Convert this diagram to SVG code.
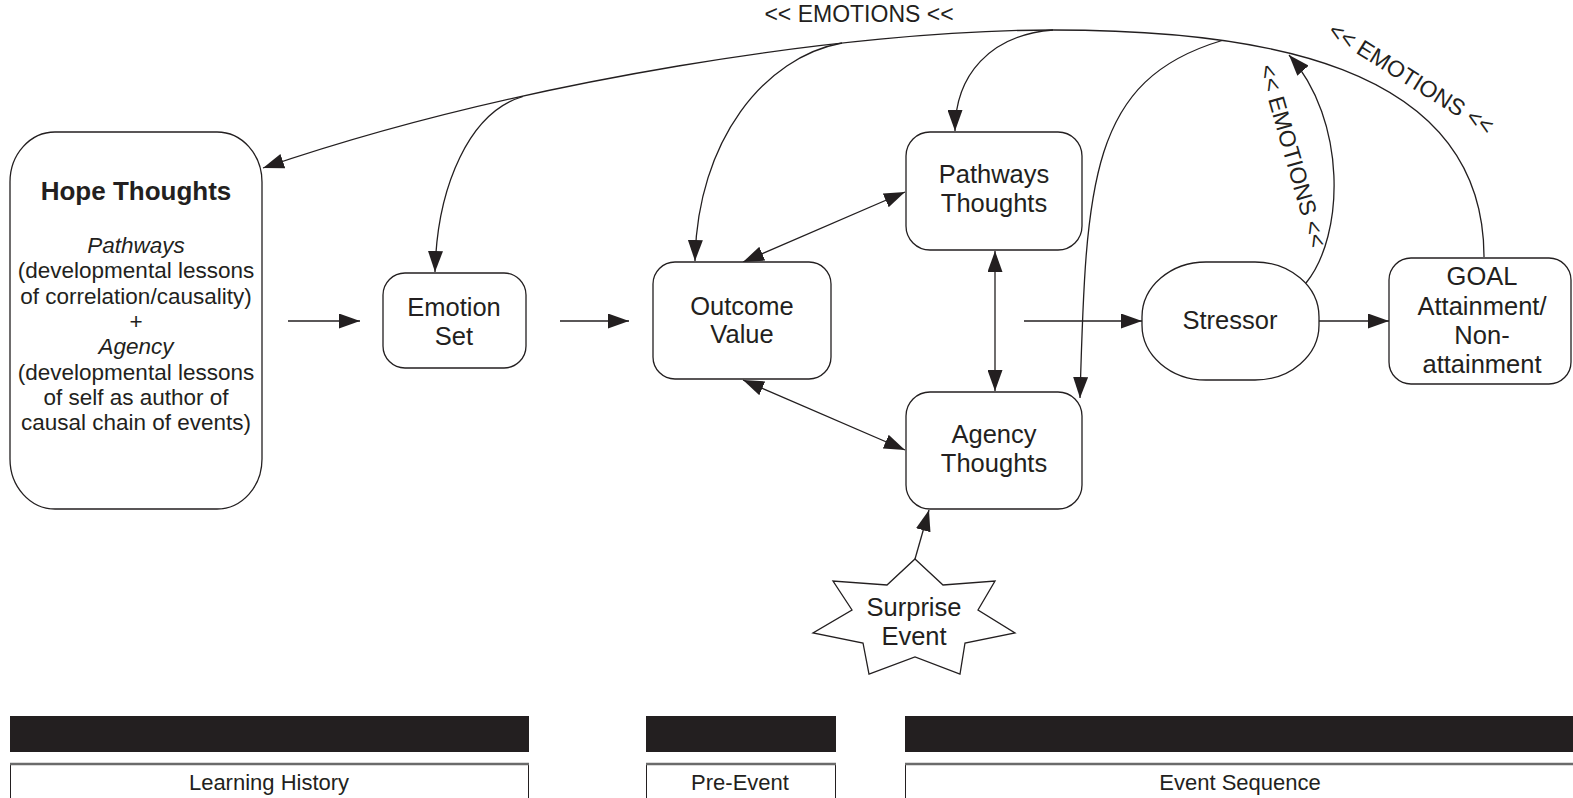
<svg xmlns="http://www.w3.org/2000/svg" width="1573" height="798" viewBox="0 0 1573 798">
  <style>
    .box { fill: #ffffff; stroke: #231f20; stroke-width: 1.3; }
    .wire { fill: none; stroke: #231f20; stroke-width: 1.3; }
    .lbl { font-family: "Liberation Sans", Arial, sans-serif; font-size: 25.5px; fill: #231f20; text-anchor: middle; }
    .hope { font-family: "Liberation Sans", Arial, sans-serif; font-size: 22.5px; fill: #231f20; text-anchor: middle; }
    .title { font-weight: bold; font-size: 26px; }
    .it { font-style: italic; }
    .emo { font-family: "Liberation Sans", Arial, sans-serif; font-size: 23px; fill: #231f20; text-anchor: middle; }
    .bar { fill: #231f20; }
    .phase { fill: #ffffff; stroke: #231f20; stroke-width: 1; }
    .phaseTop { stroke: #6b6b6b; stroke-width: 2.5; }
    .phaseLbl { font-family: "Liberation Sans", Arial, sans-serif; font-size: 22px; fill: #231f20; text-anchor: middle; }
  </style>
  <defs>
    <marker id="ah" viewBox="0 0 21 15" markerWidth="21" markerHeight="15" refX="21" refY="7.5" orient="auto-start-reverse" markerUnits="userSpaceOnUse">
      <path d="M0,0 L21,7.5 L0,15 z" fill="#231f20"/>
    </marker>
  </defs>

  <rect width="1573" height="798" fill="#ffffff"/>

  <!-- connectors -->
  <g id="connectors">
    <!-- emotional feedback arc from goal back to hope thoughts -->
    <path class="wire" d="M1484,257 C1484,60 1250,30 1053,30 C850,30 520,80 263,168" marker-end="url(#ah)"/>
    <!-- branches leaving the arc -->
    <path class="wire" d="M523,96.5 C470,112 437,185 435,272" marker-end="url(#ah)"/>
    <path class="wire" d="M842,43 C765,57 697,140 695,261" marker-end="url(#ah)"/>
    <path class="wire" d="M1053,30 C990,35 955,75 955,131" marker-end="url(#ah)"/>
    <path class="wire" d="M1222,40.5 C1090,80 1086,180 1080,398" marker-end="url(#ah)"/>
    <!-- stressor feeding emotions up into the arc -->
    <path class="wire" d="M1306,283 C1345,235 1347,120 1289,55" marker-end="url(#ah)"/>

    <!-- main left-to-right flow -->
    <line class="wire" x1="288" y1="321" x2="360" y2="321" marker-end="url(#ah)"/>
    <line class="wire" x1="560" y1="321" x2="629" y2="321" marker-end="url(#ah)"/>
    <line class="wire" x1="1024" y1="321" x2="1142" y2="321" marker-end="url(#ah)"/>
    <line class="wire" x1="1319" y1="321" x2="1389" y2="321" marker-end="url(#ah)"/>

    <!-- two-way links -->
    <line class="wire" x1="743" y1="262" x2="905" y2="192" marker-start="url(#ah)" marker-end="url(#ah)"/>
    <line class="wire" x1="743" y1="380" x2="905" y2="450" marker-start="url(#ah)" marker-end="url(#ah)"/>
    <line class="wire" x1="995" y1="251" x2="995" y2="391" marker-start="url(#ah)" marker-end="url(#ah)"/>

    <!-- surprise event into agency -->
    <line class="wire" x1="915" y1="559" x2="929" y2="510" marker-end="url(#ah)"/>

    <!-- arc labels -->
    <text class="emo" x="859" y="22">&lt;&lt; EMOTIONS &lt;&lt;</text>
    <text class="emo" transform="translate(1407,85) rotate(32)">&lt;&lt; EMOTIONS &lt;&lt;</text>
    <text class="emo" transform="translate(1285,158) rotate(74)">&lt;&lt; EMOTIONS &lt;&lt;</text>
  </g>

  <!-- nodes -->
  <g id="hope-thoughts">
    <rect class="box" x="10" y="132" width="252" height="377" rx="45" ry="50"/>
    <text class="hope title" x="136" y="200">Hope Thoughts</text>
    <text class="hope it" x="136" y="253">Pathways</text>
    <text class="hope" x="136" y="278">(developmental lessons</text>
    <text class="hope" x="136" y="303.5">of correlation/causality)</text>
    <text class="hope" x="136" y="329">+</text>
    <text class="hope it" x="136" y="354">Agency</text>
    <text class="hope" x="136" y="379.5">(developmental lessons</text>
    <text class="hope" x="136" y="405">of self as author of</text>
    <text class="hope" x="136" y="430">causal chain of events)</text>
  </g>

  <g id="emotion-set">
    <rect class="box" x="383" y="273" width="143" height="95" rx="22"/>
    <text class="lbl" x="454" y="316">Emotion</text>
    <text class="lbl" x="454" y="345">Set</text>
  </g>

  <g id="outcome-value">
    <rect class="box" x="653" y="262" width="178" height="117" rx="22"/>
    <text class="lbl" x="742" y="315">Outcome</text>
    <text class="lbl" x="742" y="343">Value</text>
  </g>

  <g id="pathways-thoughts">
    <rect class="box" x="906" y="132" width="176" height="118" rx="24"/>
    <text class="lbl" x="994" y="183">Pathways</text>
    <text class="lbl" x="994" y="212">Thoughts</text>
  </g>

  <g id="agency-thoughts">
    <rect class="box" x="906" y="392" width="176" height="117" rx="24"/>
    <text class="lbl" x="994" y="443">Agency</text>
    <text class="lbl" x="994" y="472">Thoughts</text>
  </g>

  <g id="stressor">
    <rect class="box" x="1142" y="262" width="177" height="118" rx="64" ry="55"/>
    <text class="lbl" x="1230" y="329">Stressor</text>
  </g>

  <g id="goal">
    <rect class="box" x="1389" y="258" width="182" height="126" rx="22"/>
    <text class="lbl" x="1482" y="285">GOAL</text>
    <text class="lbl" x="1482" y="315">Attainment/</text>
    <text class="lbl" x="1482" y="344">Non-</text>
    <text class="lbl" x="1482" y="373">attainment</text>
  </g>

  <g id="surprise-event">
    <polygon class="box" points="915,559 943,585 995,581 978,610 1015,633 965,643 960,674 915,657 869,674 863,643 813,633 852,610 833,581 887,585"/>
    <text class="lbl" x="914" y="616">Surprise</text>
    <text class="lbl" x="914" y="645">Event</text>
  </g>

  <!-- timeline phases -->
  <g id="phase-learning-history">
    <rect class="bar" x="10" y="716" width="519" height="36"/>
    <rect class="phase" x="10.5" y="764" width="518" height="40"/>
    <line class="phaseTop" x1="10" y1="764" x2="529" y2="764"/>
    <text class="phaseLbl" x="269" y="790">Learning History</text>
  </g>
  <g id="phase-pre-event">
    <rect class="bar" x="646" y="716" width="190" height="36"/>
    <rect class="phase" x="646.5" y="764" width="189" height="40"/>
    <line class="phaseTop" x1="646" y1="764" x2="836" y2="764"/>
    <text class="phaseLbl" x="740" y="790">Pre-Event</text>
  </g>
  <g id="phase-event-sequence">
    <rect class="bar" x="905" y="716" width="668" height="36"/>
    <rect class="phase" x="905.5" y="764" width="672" height="40"/>
    <line class="phaseTop" x1="905" y1="764" x2="1573" y2="764"/>
    <text class="phaseLbl" x="1240" y="790">Event Sequence</text>
  </g>
</svg>
